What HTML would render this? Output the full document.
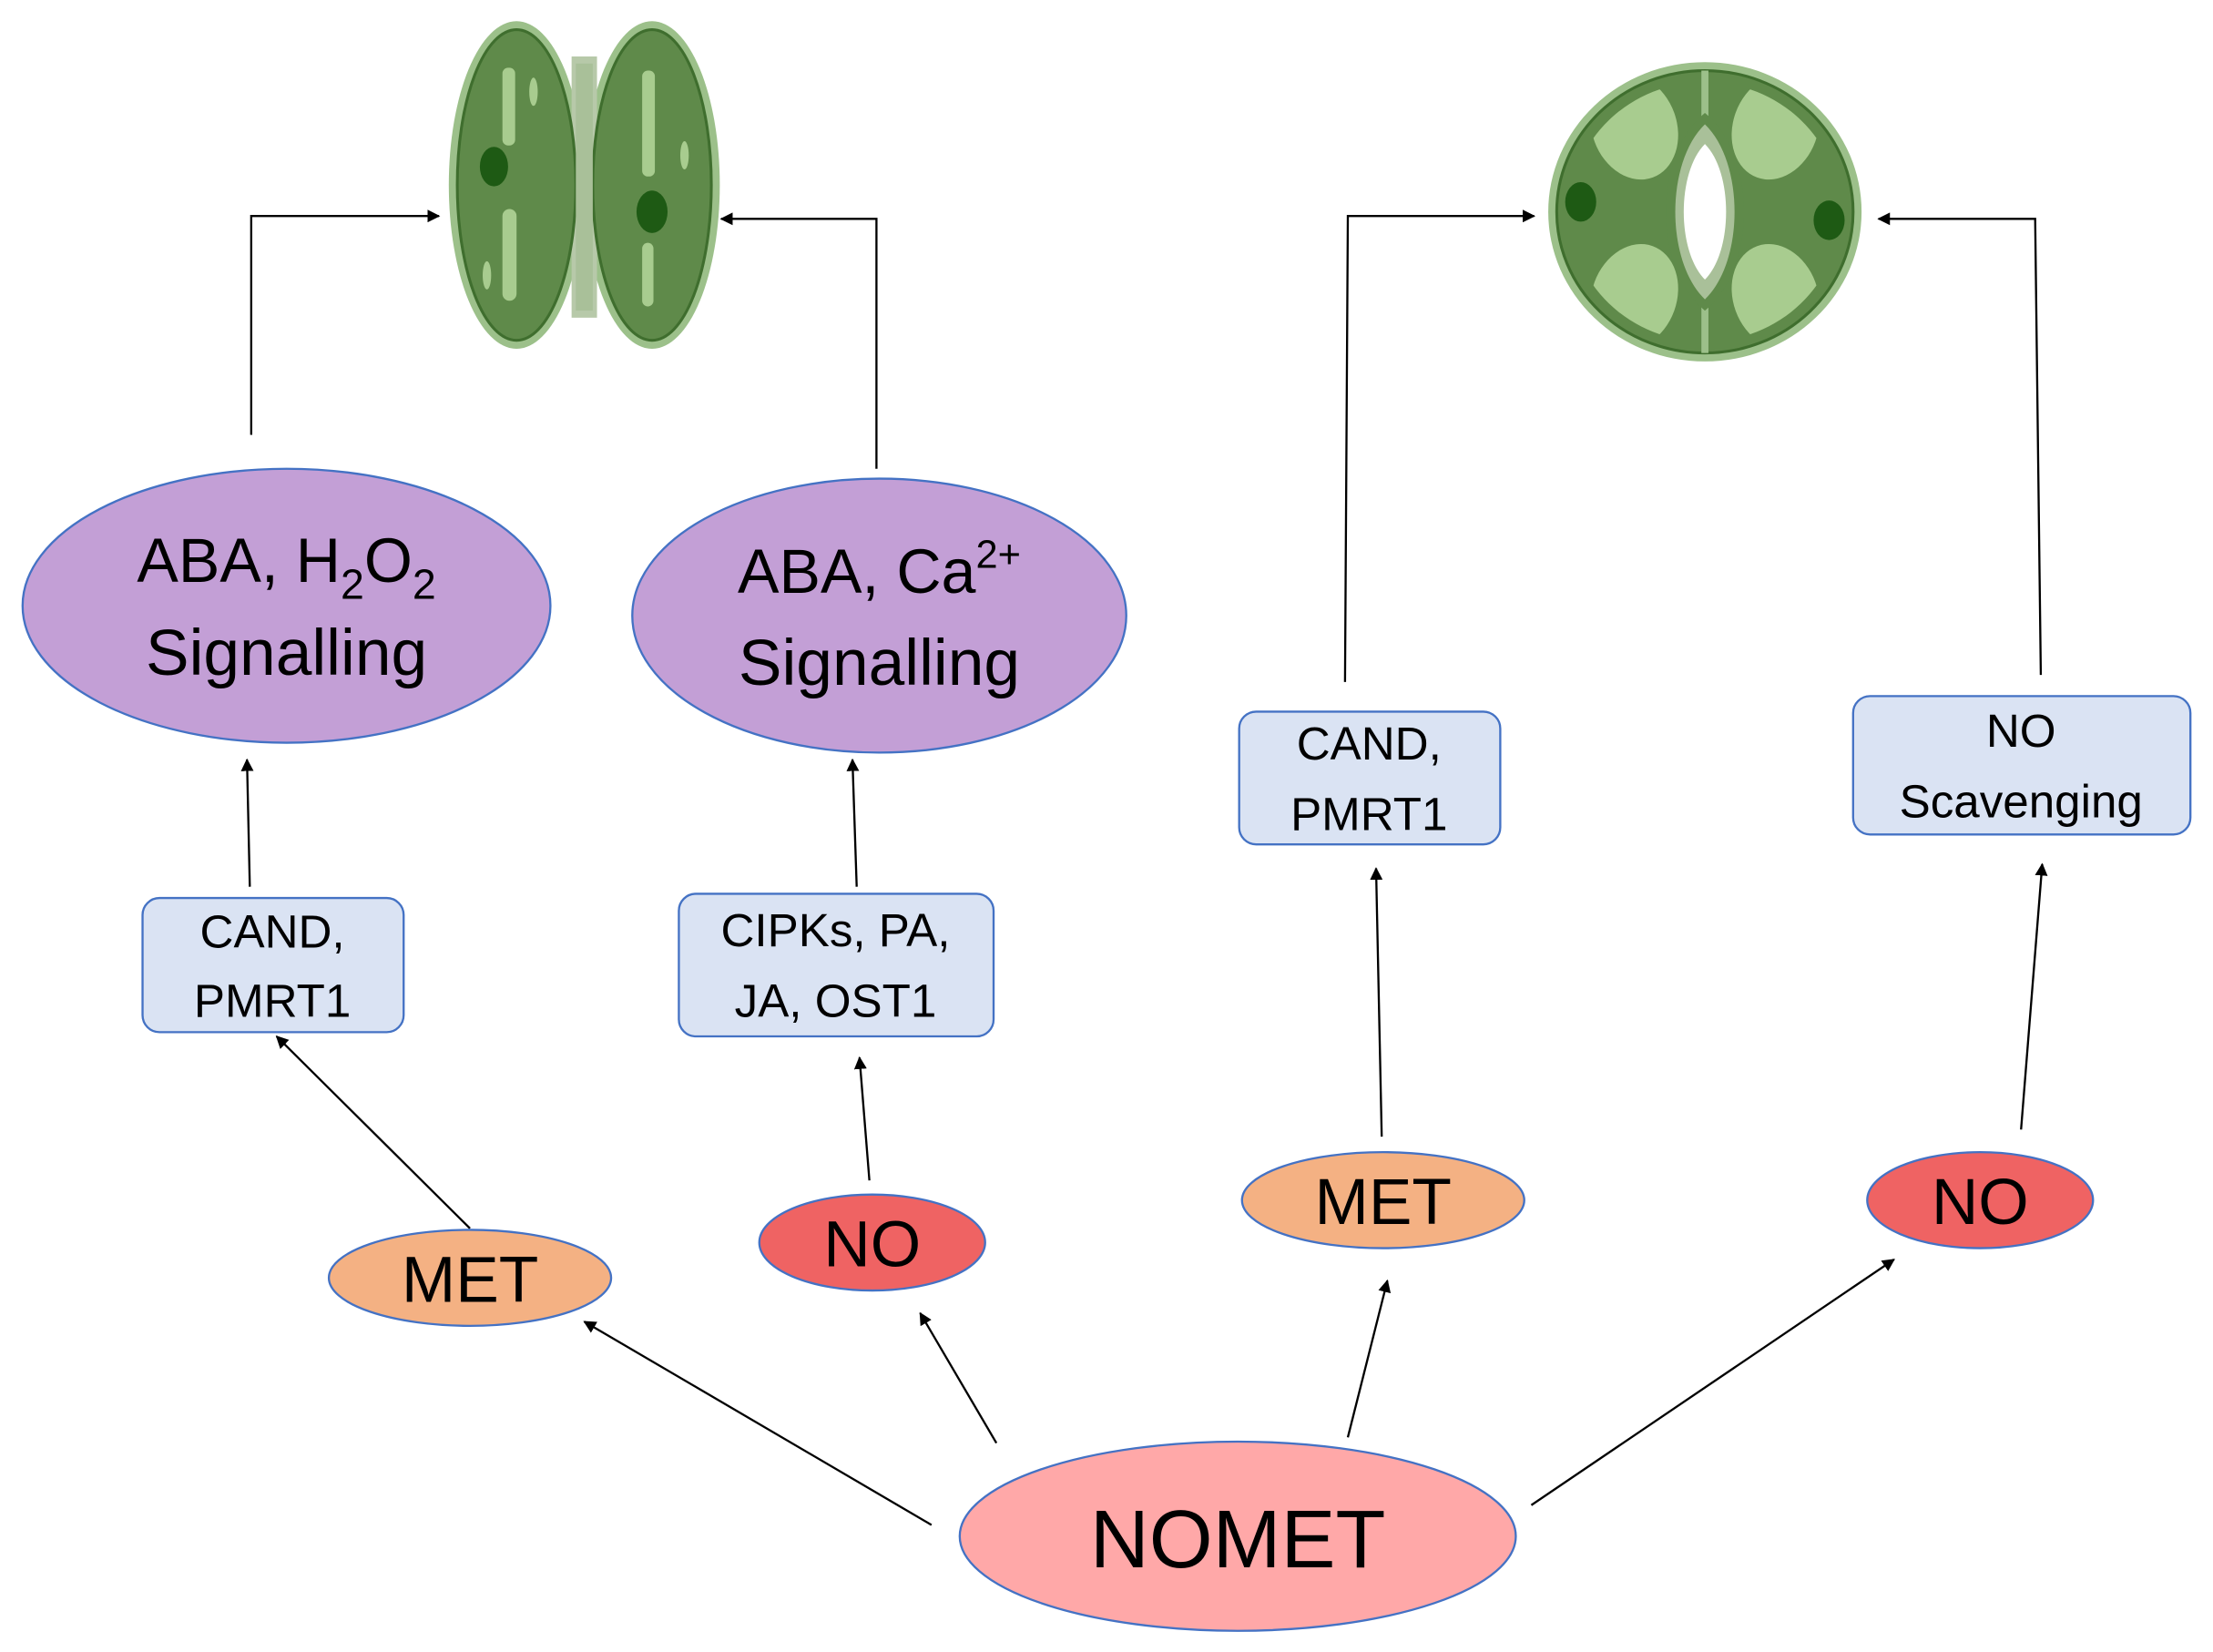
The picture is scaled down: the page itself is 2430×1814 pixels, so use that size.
<!DOCTYPE html>
<html><head><meta charset="utf-8"><style>
html,body{margin:0;padding:0;background:#fff;}
svg{display:block;}
text{font-family:"Liberation Sans Narrow","Liberation Sans",sans-serif;fill:#000;text-anchor:middle;}
</style></head><body>
<svg width="2430" height="1814" viewBox="0 0 1568 1170" preserveAspectRatio="none" xmlns="http://www.w3.org/2000/svg">
<defs>
<marker id="a" viewBox="0 0 10 10" refX="9" refY="5" markerWidth="9" markerHeight="9" markerUnits="userSpaceOnUse" orient="auto"><path d="M0,0 L10,5 L0,10 z" fill="#000"/></marker>
<clipPath id="c"><ellipse cx="1208" cy="150" rx="96" ry="92"/></clipPath>
</defs>
<!-- closed stoma -->
<g>
<ellipse cx="366" cy="131" rx="48" ry="116" fill="#9cc08a"/>
<ellipse cx="462" cy="131" rx="48" ry="116" fill="#9cc08a"/>
<rect x="405" y="40" width="18" height="185" fill="#b7c9a9"/>
<ellipse cx="366" cy="131" rx="42" ry="110" fill="#5f8a4a" stroke="#3f6e2e" stroke-width="2"/>
<ellipse cx="462" cy="131" rx="42" ry="110" fill="#5f8a4a" stroke="#3f6e2e" stroke-width="2"/>
<rect x="408" y="45" width="12" height="175" fill="#a9c099"/>
<ellipse cx="350" cy="118" rx="10" ry="14" fill="#1e5a14"/>
<ellipse cx="462" cy="150" rx="11" ry="15" fill="#1e5a14"/>
<rect x="356" y="48" width="9" height="55" rx="4" fill="#a8cc8f"/>
<rect x="356" y="148" width="10" height="65" rx="5" fill="#a8cc8f"/>
<rect x="455" y="50" width="9" height="75" rx="4" fill="#a8cc8f"/>
<rect x="455" y="172" width="8" height="45" rx="4" fill="#a8cc8f"/>
<ellipse cx="378" cy="65" rx="3" ry="10" fill="#a8cc8f"/>
<ellipse cx="485" cy="110" rx="3" ry="10" fill="#a8cc8f"/>
<ellipse cx="345" cy="195" rx="3" ry="10" fill="#a8cc8f"/>
</g>
<!-- open stoma -->
<g>
<ellipse cx="1208" cy="150" rx="111" ry="106" fill="#9cc08a"/>
<ellipse cx="1208" cy="150" rx="105" ry="100" fill="#5f8a4a" stroke="#3f6e2e" stroke-width="2"/>
<g clip-path="url(#c)">
<ellipse cx="1158" cy="90" rx="30" ry="38" transform="rotate(-20 1158 90)" fill="#a8cc8f"/>
<ellipse cx="1158" cy="210" rx="30" ry="38" transform="rotate(20 1158 210)" fill="#a8cc8f"/>
<ellipse cx="1258" cy="90" rx="30" ry="38" transform="rotate(20 1258 90)" fill="#a8cc8f"/>
<ellipse cx="1258" cy="210" rx="30" ry="38" transform="rotate(-20 1258 210)" fill="#a8cc8f"/>
</g>
<line x1="1208" y1="50" x2="1208" y2="250" stroke="#9cc08a" stroke-width="5"/>
<path d="M1208,80 C1245,110 1245,190 1208,220 C1171,190 1171,110 1208,80 z" fill="#5f8a4a"/>
<path d="M1208,88 C1236,115 1236,185 1208,212 C1180,185 1180,115 1208,88 z" fill="#a9c099"/>
<path d="M1208,102 C1228,122 1228,178 1208,198 C1188,178 1188,122 1208,102 z" fill="#fff"/>
<ellipse cx="1120" cy="143" rx="11" ry="14" fill="#1e5a14"/>
<ellipse cx="1296" cy="156" rx="11" ry="14" fill="#1e5a14"/>
</g>
<!-- connectors -->
<g fill="none" stroke="#000" stroke-width="1.5">
<polyline points="178,308 178,153 311,153" marker-end="url(#a)"/>
<polyline points="621,332 621,155 511,155" marker-end="url(#a)"/>
<polyline points="953,483 955,153 1087,153" marker-end="url(#a)"/>
<polyline points="1446,478 1442,155 1331,155" marker-end="url(#a)"/>
<line x1="177" y1="628" x2="175" y2="538" marker-end="url(#a)"/>
<line x1="607" y1="628" x2="604" y2="538" marker-end="url(#a)"/>
<line x1="333" y1="870" x2="196" y2="734" marker-end="url(#a)"/>
<line x1="616" y1="836" x2="609" y2="749" marker-end="url(#a)"/>
<line x1="979" y1="805" x2="975" y2="615" marker-end="url(#a)"/>
<line x1="1432" y1="800" x2="1447" y2="612" marker-end="url(#a)"/>
<line x1="660" y1="1080" x2="414" y2="936" marker-end="url(#a)"/>
<line x1="706" y1="1022" x2="652" y2="930" marker-end="url(#a)"/>
<line x1="955" y1="1018" x2="983" y2="907" marker-end="url(#a)"/>
<line x1="1085" y1="1066" x2="1342" y2="892" marker-end="url(#a)"/>
</g>
<ellipse cx="203" cy="429" rx="187" ry="97" fill="#c39fd6" stroke="#4472c4" stroke-width="1.5"/>
<text x="203" y="412" font-size="44">ABA, H<tspan font-size="30" dy="12">2</tspan><tspan dy="-12">O</tspan><tspan font-size="30" dy="12">2</tspan></text>
<text x="203" y="478" font-size="46">Signalling</text>
<ellipse cx="623" cy="436" rx="175" ry="97" fill="#c39fd6" stroke="#4472c4" stroke-width="1.5"/>
<text x="623" y="420" font-size="44">ABA, Ca<tspan font-size="28" dy="-18">2+</tspan></text>
<text x="623" y="485" font-size="46">Signalling</text>
<g fill="#dae3f3" stroke="#4472c4" stroke-width="1.5">
<rect x="101" y="636" width="185" height="95" rx="12"/>
<rect x="481" y="633" width="223" height="101" rx="12"/>
<rect x="878" y="504" width="185" height="94" rx="12"/>
<rect x="1313" y="493" width="239" height="98" rx="12"/>
</g>
<g font-size="33">
<text x="193" y="671">CAND,</text><text x="193" y="720">PMRT1</text>
<text x="592" y="670">CIPKs, PA,</text><text x="592" y="720">JA, OST1</text>
<text x="970" y="538">CAND,</text><text x="970" y="588">PMRT1</text>
<text x="1432" y="529">NO</text><text x="1432" y="579">Scavenging</text>
</g>
<ellipse cx="333" cy="905" rx="100" ry="34" fill="#f4b183" stroke="#4472c4" stroke-width="1.5"/>
<text x="333" y="922" font-size="46">MET</text>
<ellipse cx="980" cy="850" rx="100" ry="34" fill="#f4b183" stroke="#4472c4" stroke-width="1.5"/>
<text x="980" y="867" font-size="46">MET</text>
<ellipse cx="618" cy="880" rx="80" ry="34" fill="#ef6363" stroke="#4472c4" stroke-width="1.5"/>
<text x="618" y="897" font-size="46">NO</text>
<ellipse cx="1403" cy="850" rx="80" ry="34" fill="#ef6363" stroke="#4472c4" stroke-width="1.5"/>
<text x="1403" y="867" font-size="46">NO</text>
<ellipse cx="877" cy="1088" rx="197" ry="67" fill="#ffa8a8" stroke="#4472c4" stroke-width="1.5"/>
<text x="877" y="1110" font-size="58">NOMET</text>
</svg>
</body></html>
